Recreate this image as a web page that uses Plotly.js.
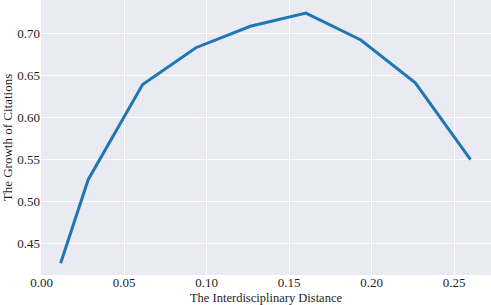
<!DOCTYPE html>
<html><head><meta charset="utf-8">
<script src="https://cdn.plot.ly/plotly-3.0.1.min.js"></script>
<style>html,body{margin:0;padding:0;background:#fff}#chart{width:491px;height:305px}</style>
</head><body><div id="chart"></div>
<script>
const distance = [0.0115, 0.0282, 0.0612, 0.0935, 0.1265, 0.1602, 0.1935, 0.2265, 0.2600];
const growth = [0.4267, 0.5262, 0.6395, 0.6833, 0.7088, 0.7245, 0.6925, 0.6415, 0.5502];
const xTicks = [0.00, 0.05, 0.10, 0.15, 0.20, 0.25];
const yTicks = [0.45, 0.50, 0.55, 0.60, 0.65, 0.70];

const font = {family: '"Liberation Serif", "Times New Roman", serif', color: '#1e1e1e', size: 13};
Plotly.newPlot('chart', [{
  x: distance, y: growth, type: 'scatter', mode: 'lines',
  line: {color: '#1f77b4', width: 3}
}], {
  width: 491, height: 305,
  margin: {l: 41, r: 0, t: 0, b: 30},
  paper_bgcolor: '#ffffff', plot_bgcolor: '#EAEAF2',
  font: font,
  showlegend: false,
  xaxis: {
    range: [-0.0004, 0.2724], tickvals: xTicks, ticktext: xTicks.map(v => v.toFixed(2)),
    showgrid: true, gridcolor: '#ffffff', gridwidth: 1, zeroline: false, showline: false,
    ticks: '', ticklen: 0, tickfont: {size: 13}, ticklabelstandoff: -2,
    title: {text: 'The Interdisciplinary Distance', font: {size: 12.5}, standoff: 4}
  },
  yaxis: {
    range: [0.4127, 0.7401], tickvals: yTicks, ticktext: yTicks.map(v => v.toFixed(2)),
    showgrid: true, gridcolor: '#ffffff', gridwidth: 1, zeroline: false, showline: false,
    ticks: '', ticklen: 0, tickfont: {size: 13},
    title: {text: 'The Growth of Citations', font: {size: 13}, standoff: 4}
  }
}, {displayModeBar: false, staticPlot: true});
</script></body></html>
